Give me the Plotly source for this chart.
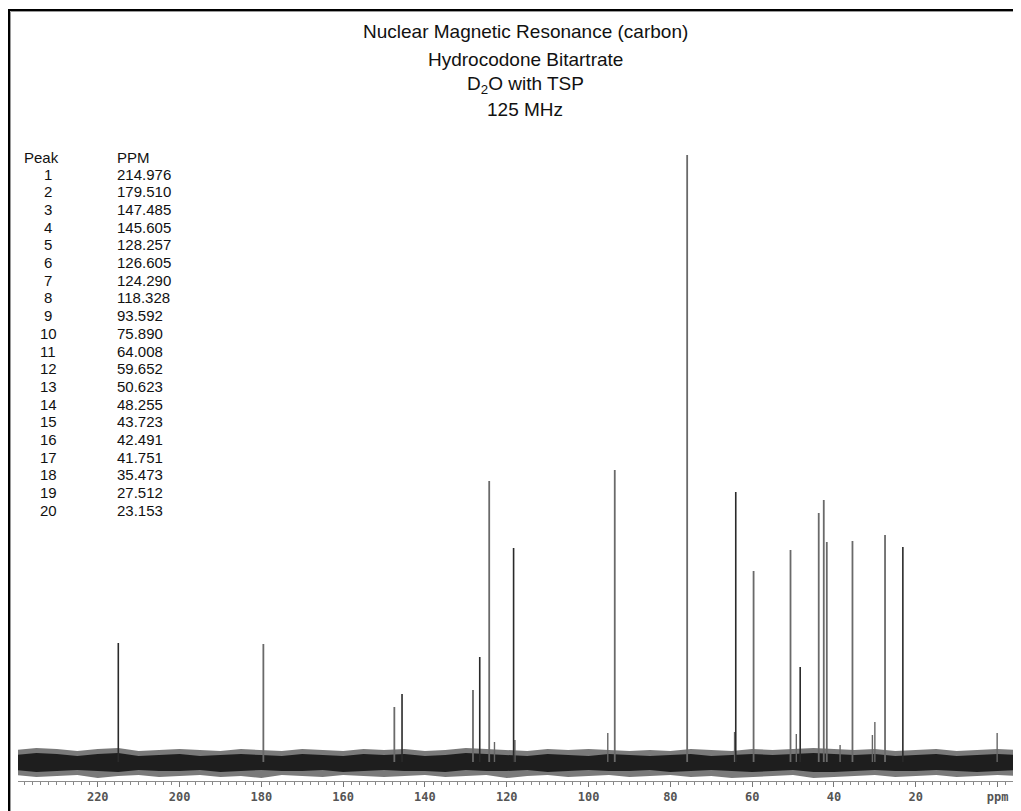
import plotly.graph_objects as go

# ---------------- data ----------------
peak_ppm = [214.976, 179.510, 147.485, 145.605, 128.257, 126.605, 124.290, 118.328,
            93.592, 75.890, 64.008, 59.652, 50.623, 48.255, 43.723, 42.491, 41.751,
            35.473, 27.512, 23.153]
peak_height = [119, 118, 55, 68, 72, 105, 281, 214,
               292, 607, 270, 191, 212, 95, 249, 262, 220,
               221, 227, 215]

# small unlisted signals visible above the noise
minor_ppm = [123.0, 118.0, 95.3, 64.3, 49.2, 38.5, 30.6, 30.0, 0.1]
minor_height = [20, 22, 29, 30, 28, 17, 27, 40, 29]

# baseline noise envelope (read roughly every 5 ppm)
noise_ppm = [240, 235, 230, 225, 220, 215, 210, 205, 200, 195, 190, 185, 180, 175, 170,
             165, 160, 155, 150, 145, 140, 135, 130, 125, 120, 115, 110, 105, 100, 95,
             90, 85, 80, 75, 70, 65, 60, 55, 50, 45, 40, 35, 30, 25, 20, 15, 10, 5, 0, -6]
noise_core_hi = [7, 9, 8, 6, 8, 9, 6, 7, 8, 6, 7, 8, 7, 6, 8, 7, 6, 8, 7, 8,
                 6, 7, 9, 8, 7, 6, 8, 7, 6, 8, 7, 6, 7, 8, 6, 7, 8, 7, 8, 9,
                 8, 7, 8, 6, 7, 8, 6, 7, 8, 7]
noise_core_lo = [-8, -10, -9, -8, -9, -10, -8, -9, -9, -8, -10, -9, -8, -9, -9,
                 -8, -10, -9, -8, -9, -9, -10, -8, -9, -9, -8, -10, -9, -8, -9,
                 -9, -8, -10, -9, -8, -9, -10, -9, -8, -10, -10, -9, -8, -9, -9,
                 -8, -9, -10, -9, -8]
noise_out_hi = [12, 14, 13, 11, 13, 14, 11, 12, 13, 12, 11, 13, 12, 11, 13, 12, 11, 13, 12, 13,
                11, 12, 14, 13, 12, 11, 13, 12, 13, 12, 11, 12, 11, 13, 12, 11, 13, 12, 13, 14,
                13, 12, 13, 11, 12, 13, 11, 12, 13, 12]
noise_out_lo = [-13, -15, -14, -13, -16, -14, -13, -15, -14, -13, -15, -14, -16, -13, -14,
                -15, -13, -14, -15, -14, -13, -15, -14, -13, -16, -14, -13, -15, -14, -13,
                -15, -14, -13, -15, -14, -16, -15, -14, -13, -16, -15, -14, -13, -15, -14,
                -13, -15, -14, -13, -14]

tick_vals = [220, 200, 180, 160, 140, 120, 100, 80, 60, 40, 20, 0]
tick_text = ["220", "200", "180", "160", "140", "120", "100", "80", "60", "40", "20", "ppm"]

title_lines = ["Nuclear Magnetic Resonance (carbon)", "Hydrocodone Bitartrate",
               "D<sub>2</sub>O with TSP", "125 MHz"]

# peaks drawn in darker ink in the scan (style only)
dark_peak_numbers = {1, 4, 6, 8, 11, 14, 20}

# ---------------- figure ----------------
OFF = 8                      # page body margin of the browser
W, H = 1021 - OFF, 811 - OFF
ML, MR, MT, MB = 10, 0, 142, 30
PW = W - ML - MR
PH = H - MT - MB
X0, X1 = 239.5, 239.5 - PW / 4.09
Y0, Y1 = -19, 612


def px_to_paper_x(px):
    return (px - OFF - ML) / PW


def px_to_paper_y(py):
    return (H - MB - (py - OFF)) / PH


fig = go.Figure()

# noise bands
fig.add_trace(go.Scatter(x=noise_ppm, y=noise_out_hi, mode="lines",
                         line=dict(color="rgba(0,0,0,0)", width=0), hoverinfo="skip"))
fig.add_trace(go.Scatter(x=noise_ppm, y=noise_out_lo, mode="lines", fill="tonexty",
                         fillcolor="#7a7a7a", line=dict(color="rgba(0,0,0,0)", width=0),
                         hoverinfo="skip"))
fig.add_trace(go.Scatter(x=noise_ppm, y=noise_core_hi, mode="lines",
                         line=dict(color="rgba(0,0,0,0)", width=0), hoverinfo="skip"))
fig.add_trace(go.Scatter(x=noise_ppm, y=noise_core_lo, mode="lines", fill="tonexty",
                         fillcolor="#1e1e1e", line=dict(color="rgba(0,0,0,0)", width=0),
                         hoverinfo="skip"))


def sticks(ppms, hts):
    xs, ys = [], []
    for p, h in zip(ppms, hts):
        xs += [p, p, None]
        ys += [0, h, None]
    return xs, ys


mx, my = sticks(minor_ppm, minor_height)
fig.add_trace(go.Scatter(x=mx, y=my, mode="lines", line=dict(color="#666666", width=1.4),
                         hoverinfo="skip"))

light_idx = [i for i in range(len(peak_ppm)) if (i + 1) not in dark_peak_numbers]
dark_idx = [i for i in range(len(peak_ppm)) if (i + 1) in dark_peak_numbers]
lx, ly = sticks([peak_ppm[i] for i in light_idx], [peak_height[i] for i in light_idx])
fig.add_trace(go.Scatter(x=lx, y=ly, mode="lines", line=dict(color="#6a6a6a", width=1.8),
                         hoverinfo="skip"))
dx, dy = sticks([peak_ppm[i] for i in dark_idx], [peak_height[i] for i in dark_idx])
fig.add_trace(go.Scatter(x=dx, y=dy, mode="lines", line=dict(color="#2a2a2a", width=1.6),
                         hoverinfo="skip"))

annotations = []
# title
title_y = [32, 59, 85, 109]
for txt, yy in zip(title_lines, title_y):
    annotations.append(dict(text=txt, xref="paper", yref="paper", x=px_to_paper_x(525),
                            y=px_to_paper_y(yy), xanchor="center", yanchor="middle",
                            showarrow=False,
                            font=dict(family="Liberation Sans", size=19, color="#111111")))

# peak table
tab_font = dict(family="Liberation Sans", size=15, color="#111111")
annotations.append(dict(text="Peak", xref="paper", yref="paper", x=px_to_paper_x(22),
                        y=px_to_paper_y(158), xanchor="left", yanchor="middle",
                        showarrow=False, font=tab_font))
annotations.append(dict(text="PPM", xref="paper", yref="paper", x=px_to_paper_x(115),
                        y=px_to_paper_y(158), xanchor="left", yanchor="middle",
                        showarrow=False, font=tab_font))
for i, p in enumerate(peak_ppm):
    yy = 174 + i * 17.7
    annotations.append(dict(text=str(i + 1), xref="paper", yref="paper",
                            x=px_to_paper_x(48), y=px_to_paper_y(yy), xanchor="center",
                            yanchor="middle", showarrow=False, font=tab_font))
    annotations.append(dict(text=f"{p:.3f}", xref="paper", yref="paper",
                            x=px_to_paper_x(115), y=px_to_paper_y(yy), xanchor="left",
                            yanchor="middle", showarrow=False, font=tab_font))

# frame lines (top and left)
shapes = [
    dict(type="line", xref="paper", yref="paper", x0=px_to_paper_x(8), x1=1.0,
         y0=px_to_paper_y(10), y1=px_to_paper_y(10), line=dict(color="#000000", width=2)),
    dict(type="line", xref="paper", yref="paper", x0=px_to_paper_x(9), x1=px_to_paper_x(9),
         y0=px_to_paper_y(10), y1=px_to_paper_y(811), line=dict(color="#000000", width=2)),
    dict(type="line", xref="paper", yref="paper", x0=px_to_paper_x(10.5), x1=1.0,
         y0=px_to_paper_y(11.5), y1=px_to_paper_y(11.5), line=dict(color="#9a9a9a", width=1)),
    dict(type="line", xref="paper", yref="paper", x0=px_to_paper_x(10.5), x1=px_to_paper_x(10.5),
         y0=px_to_paper_y(11.5), y1=px_to_paper_y(811), line=dict(color="#9a9a9a", width=1)),
]

fig.update_layout(
    width=W, height=H,
    margin=dict(l=ML, r=MR, t=MT, b=MB, pad=0),
    paper_bgcolor="white", plot_bgcolor="white",
    showlegend=False,
    annotations=annotations,
    shapes=shapes,
    xaxis=dict(range=[X0, X1], showgrid=False, zeroline=False, showline=True,
               linecolor="#8c8c8c", linewidth=1, ticks="outside", ticklen=5,
               tickcolor="#777777", tickwidth=1, tickvals=tick_vals, ticktext=tick_text,
               tickfont=dict(family="DejaVu Sans Mono", size=12, color="#555555",
                             weight="bold"),
               minor=dict(dtick=2, ticklen=3, tickcolor="#888888", ticks="outside",
                          showgrid=False)),
    yaxis=dict(range=[Y0, Y1], visible=False),
)

fig.write_html("out.html")
